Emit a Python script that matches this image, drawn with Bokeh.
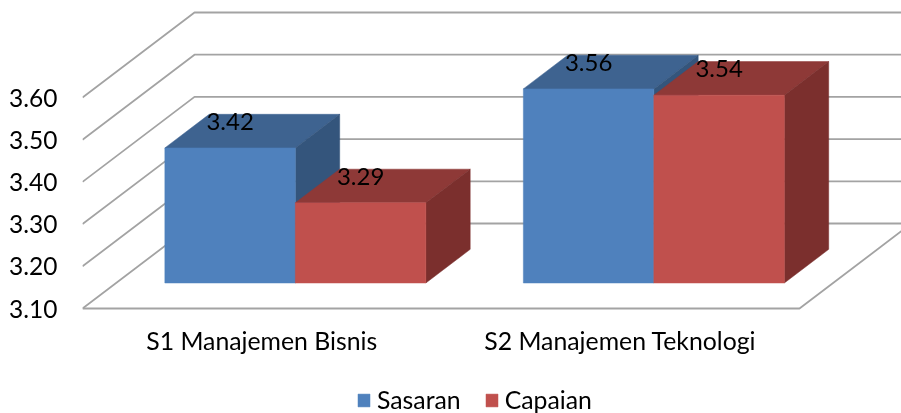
from bokeh.plotting import figure
from bokeh.models import ColumnDataSource, FixedTicker, Legend, LegendItem, Range1d, NumeralTickFormatter
from bokeh.core.properties import value
from bokeh.embed import file_html
from bokeh.resources import INLINE

categories = ["S1 Manajemen Bisnis", "S2 Manajemen Teknologi"]
series_names = ["Sasaran", "Capaian"]
sasaran = [3.42, 3.56]
capaian = [3.29, 3.545]
sasaran_labels = ["3.42", "3.56"]
capaian_labels = ["3.29", "3.54"]
y_ticks = [3.10, 3.20, 3.30, 3.40, 3.50, 3.60]

FONT = "Lato"
W, H = 901, 413
LEFT, FLOOR_Y = 82, 308
PX_PER_CAT = 358.5
PX_PER_UNIT = 422.0
DX = 112 / PX_PER_CAT        # oblique depth, in category units
DY = 85 / PX_PER_UNIT        # oblique depth, in value units
BASE = y_ticks[0]
GAP = 0.136
BAR_W = 0.364
T0, T1 = 0.30, 0.696         # bar front and back within the floor depth

p = figure(width=W, height=H, output_backend="svg", toolbar_location=None,
           x_range=Range1d(0, (W - LEFT) / PX_PER_CAT),
           y_range=Range1d(BASE - (H - FLOOR_Y) / PX_PER_UNIT, BASE + FLOOR_Y / PX_PER_UNIT),
           min_border_left=LEFT, min_border_bottom=0, min_border_top=0, min_border_right=0,
           outline_line_color=None, background_fill_color="white", border_fill_color="white")
p.styles = {"position": "fixed", "left": "0px", "top": "0px"}
p.grid.visible = False

for ax in (p.xaxis[0], p.yaxis[0]):
    ax.axis_line_color = None
    ax.major_tick_line_color = None
    ax.minor_tick_line_color = None
    ax.major_label_text_color = "black"
    ax.major_label_text_font = FONT
p.yaxis[0].ticker = FixedTicker(ticks=y_ticks)
p.yaxis[0].formatter = NumeralTickFormatter(format="0.00")
p.yaxis[0].major_label_text_font_size = "24.5px"
p.yaxis[0].major_label_standoff = 19
p.xaxis[0].fixed_location = BASE
p.xaxis[0].ticker = FixedTicker(ticks=[0.5, 1.5])
p.xaxis[0].major_label_overrides = {0.5: categories[0], 1.5: categories[1]}
p.xaxis[0].major_label_text_font_size = "24.8px"
p.xaxis[0].major_label_standoff = 11

# walls and floor
GRID = "#a3a3a3"
n_cat = len(categories)
xs, ys = [], []
for v in y_ticks:
    xs.append([0, DX, n_cat + DX])
    ys.append([v, v + DY, v + DY])
xs.append([0, n_cat, n_cat + DX])
ys.append([BASE, BASE, BASE + DY])
p.multi_line(xs, ys, line_color=GRID, line_width=1.8)

front = {}
for s, (vals, cols, labs) in enumerate([
        (sasaran, ("#4F81BD", "#3E6390", "#34557C"), sasaran_labels),
        (capaian, ("#C0504D", "#8E3937", "#7B2F2D"), capaian_labels)]):
    for c in range(n_cat):
        v = vals[c]
        x0 = c + GAP + s * BAR_W
        x1 = x0 + BAR_W
        fx0, fx1 = x0 + T0 * DX, x1 + T0 * DX
        bx0, bx1 = x0 + T1 * DX, x1 + T1 * DX
        fb, ft = BASE + T0 * DY, v + T0 * DY
        bb, bt = BASE + T1 * DY, v + T1 * DY
        p.patch([fx0, fx1, bx1, bx0], [ft, ft, bt, bt], fill_color=cols[1], line_color=cols[1], line_width=0.5)
        p.patch([fx1, bx1, bx1, fx1], [ft, bt, bb, fb], fill_color=cols[2], line_color=cols[2], line_width=0.5)
        r = p.quad(left=fx0, right=fx1, bottom=fb, top=ft, fill_color=cols[0], line_color=cols[0], line_width=0.5)
        front.setdefault(s, r)

label_src = ColumnDataSource(dict(
    x=[c + GAP + s * BAR_W + BAR_W / 2 + T0 * DX for s in range(2) for c in range(n_cat)],
    y=[v + T0 * DY for vals in (sasaran, capaian) for v in vals],
    t=sasaran_labels + capaian_labels))
p.text("x", "y", text="t", source=label_src, text_font=value(FONT), text_font_size="24px",
       text_color="black", text_align="center", text_baseline="middle", y_offset=-26.5)

legend = Legend(items=[LegendItem(label=series_names[i], renderers=[front[i]]) for i in range(2)],
                orientation="horizontal", location=(274, -1), padding=0, margin=0,
                border_line_color=None, background_fill_alpha=0,
                label_text_font=FONT, label_text_font_size="24.8px", label_text_color="black",
                label_text_line_height=0.9, label_height=16,
                glyph_width=15, glyph_height=16, label_standoff=6, spacing=23)
p.add_layout(legend, "center")

open("out.html", "w").write(file_html(p, INLINE))
